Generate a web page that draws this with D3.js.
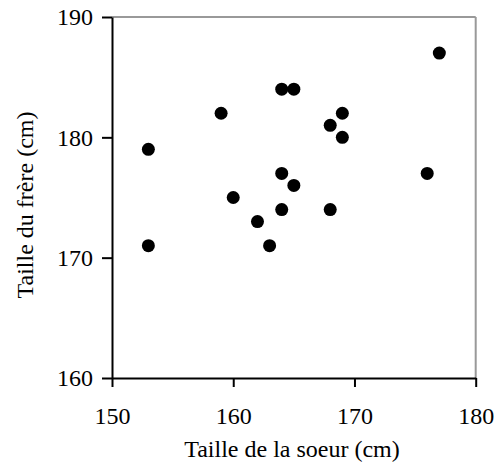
<!DOCTYPE html>
<html><head><meta charset="utf-8">
<script src="https://cdn.jsdelivr.net/npm/d3@7"></script>
<style>body{margin:0;background:#fff}svg{display:block}</style>
</head><body>
<script>
const sisterHeights = [153,153,159,160,162,163,164,165,164,164,165,168,168,169,169,176,177];
const brotherHeights = [179,171,182,175,173,171,184,184,177,174,176,181,174,182,180,177,187];
const xTicks = [150,160,170,180];
const yTicks = [160,170,180,190];
const xTitle = "Taille de la soeur (cm)";
const yTitle = "Taille du frère (cm)";

const W = 497, H = 465;
const FONT = "Liberation Serif, Times New Roman, serif";
const m = {left:112, right:W-475.7, top:17, bottom:H-378};
const svg = d3.select("body").append("svg").attr("width",W).attr("height",H);
const x = d3.scaleLinear().domain([150,180]).range([m.left, W-m.right]);
const y = d3.scaleLinear().domain([160,190]).range([H-m.bottom, m.top]);

svg.append("line").attr("x1",x(150)).attr("x2",x(180)).attr("y1",y(190)).attr("y2",y(190)).attr("stroke","#999").attr("stroke-width",2);
svg.append("line").attr("x1",x(180)).attr("x2",x(180)).attr("y1",y(190)).attr("y2",y(160)).attr("stroke","#999").attr("stroke-width",2);

const xa = svg.append("g").attr("transform",`translate(0,${y(160)})`)
  .call(d3.axisBottom(x).tickValues(xTicks).tickSize(9).tickPadding(20).tickSizeOuter(0));
const ya = svg.append("g").attr("transform",`translate(${x(150)},0)`)
  .call(d3.axisLeft(y).tickValues(yTicks).tickSize(10).tickPadding(9).tickSizeOuter(0));
[xa,ya].forEach(g=>{
  g.attr("font-family",FONT).attr("font-size",24);
  g.select(".domain").attr("stroke","#000").attr("stroke-width",2);
  g.selectAll(".tick line").attr("stroke","#000").attr("stroke-width",2);
  g.selectAll(".tick text").attr("fill","#000");
});

svg.append("g").selectAll("circle").data(sisterHeights.map((s,i)=>[s,brotherHeights[i]]))
  .join("circle").attr("cx",d=>x(d[0])).attr("cy",d=>y(d[1])).attr("r",6.5).attr("fill","#000");

svg.append("text").attr("x",292).attr("y",457).attr("text-anchor","middle")
  .attr("font-family",FONT).attr("font-size",24).text(xTitle);
svg.append("text").attr("transform",`translate(33,205) rotate(-90)`).attr("text-anchor","middle")
  .attr("font-family",FONT).attr("font-size",24).text(yTitle);
</script>
</body></html>
